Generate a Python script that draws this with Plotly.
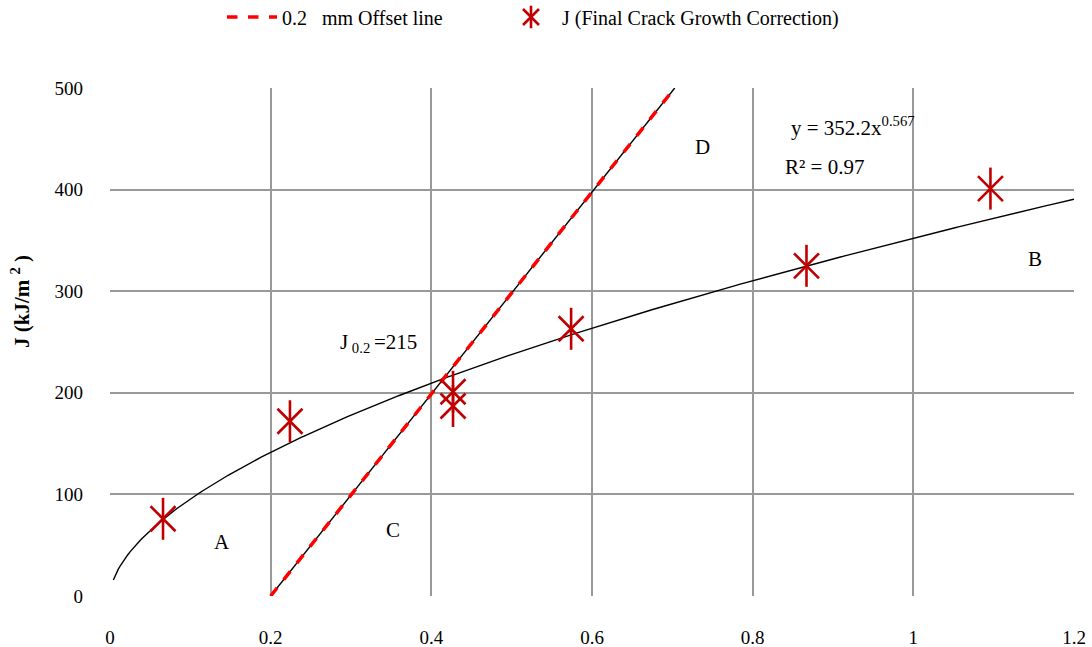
import numpy as np
import plotly.graph_objects as go

# Measured J values vs crack extension (final crack growth correction)
delta_a = [0.066, 0.224, 0.427, 0.427, 0.574, 0.867, 1.096]
j_values = [76, 172, 201, 187, 263, 325, 401]

# 0.2 mm offset (blunting) line end points
offset_x = [0.2, 0.703]
offset_j = [0, 500]

# Power-law fit  J = a * da^b
fit_a = 352.2
fit_b = 0.567
fit_x_start, fit_x_end = 0.0042, 1.2

x_ticks = [0, 0.2, 0.4, 0.6, 0.8, 1, 1.2]
x_tick_text = ["0", "0.2", "0.4", "0.6", "0.8", "1", "1.2"]
y_ticks = [0, 100, 200, 300, 400, 500]

FONT = "Liberation Serif, Times New Roman, serif"
MARK_RED = "#c00000"

# plot-area geometry in pixels (used to place paper-referenced items)
L, R, T, B = 110, 1074, 88, 596
W, H = R - L, B - T


def px_x(p):
    return (p - L) / W


def px_y(p):
    return (B - p) / H


fit_x = np.linspace(fit_x_start, fit_x_end, 400)
fit_y = fit_a * fit_x ** fit_b

fig = go.Figure()

# trend curve
fig.add_trace(go.Scatter(x=fit_x, y=fit_y, mode="lines",
                         line=dict(color="black", width=1.4),
                         showlegend=False, hoverinfo="skip"))

# offset line: thin black base with red dashes over it
fig.add_trace(go.Scatter(x=offset_x, y=offset_j, mode="lines",
                         line=dict(color="black", width=1.4),
                         showlegend=False, hoverinfo="skip"))
fig.add_trace(go.Scatter(x=offset_x, y=offset_j, mode="lines",
                         line=dict(color="#ff0000", width=3.5, dash="dash"),
                         name="0.2   mm Offset line", legend="legend"))

# star markers: X plus a vertical stroke
fig.add_trace(go.Scatter(x=delta_a, y=j_values, mode="markers",
                         marker=dict(symbol="x-thin-open", size=25, color=MARK_RED,
                                     line=dict(color=MARK_RED, width=2.6)),
                         name="J (Final Crack Growth Correction)",
                         legend="legend2"))
fig.add_trace(go.Scatter(x=delta_a, y=j_values, mode="markers",
                         marker=dict(symbol="line-ns-open", size=30, color=MARK_RED,
                                     line=dict(color=MARK_RED, width=2.6)),
                         name="J (Final Crack Growth Correction)",
                         legend="legend3"))

annotations = [
    dict(x=0.14, y=53, text="A"),
    dict(x=0.352, y=65, text="C"),
    dict(x=0.738, y=442, text="D"),
    dict(x=1.152, y=332, text="B"),
    dict(x=0.334, y=249, text="J<sub> 0.2 </sub>=215"),
    dict(x=0.925, y=462, text="y = 352.2x<sup>0.567</sup>"),
    dict(x=0.89, y=422, text="R² = 0.97"),
]
for a in annotations:
    a.update(xref="x", yref="y", showarrow=False,
             font=dict(family=FONT, size=21, color="black"))

annotations.append(dict(
    x=px_x(20), y=px_y(302), xref="paper", yref="paper",
    xanchor="center", yanchor="middle",
    text="<b>J (kJ/m <sup>2</sup> )</b>",
    textangle=-90, showarrow=False, font=dict(family=FONT, size=21, color="black")))

legend_common = dict(orientation="h", bgcolor="rgba(0,0,0,0)",
                     xanchor="left", yanchor="middle", yref="paper", xref="paper",
                     y=px_y(17))

fig.update_layout(
    width=1092, height=647,
    margin=dict(l=L, r=1092 - R, t=T, b=647 - B, autoexpand=False),
    paper_bgcolor="white", plot_bgcolor="white",
    font=dict(family=FONT, size=19, color="black"),
    annotations=annotations,
    legend=dict(x=px_x(222), itemwidth=50,
                font=dict(family=FONT, size=20, color="black"), **legend_common),
    legend2=dict(x=px_x(500), itemwidth=52,
                 font=dict(family=FONT, size=20, color="black"), **legend_common),
    legend3=dict(x=px_x(500), itemwidth=52,
                 font=dict(family=FONT, size=20, color="rgba(0,0,0,0)"), **legend_common),
    xaxis=dict(range=[0, 1.2], tickvals=x_ticks, ticktext=x_tick_text,
               showgrid=True, gridcolor="#999999", gridwidth=1.5,
               zeroline=False, showline=False, ticks="", automargin=False,
               ticklabelstandoff=28,
               tickfont=dict(family=FONT, size=19, color="black")),
    yaxis=dict(range=[0, 500], tickvals=y_ticks,
               showgrid=True, gridcolor="#999999", gridwidth=1.5,
               zeroline=False, showline=False, ticks="", automargin=False,
               ticklabelstandoff=26,
               tickfont=dict(family=FONT, size=19, color="black")),
)

fig.write_html("out.html")
